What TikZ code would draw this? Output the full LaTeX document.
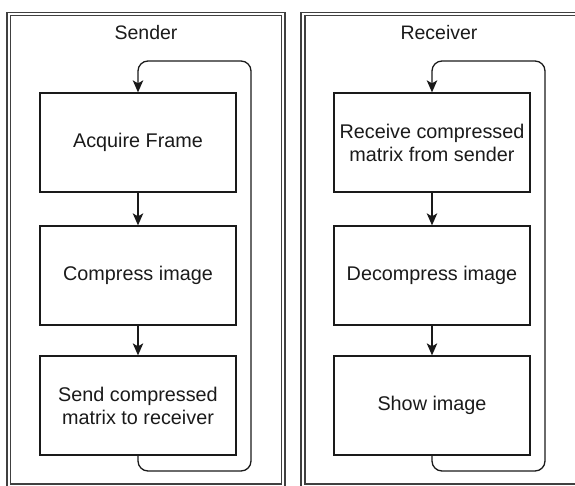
\documentclass[tikz,border=0pt]{standalone}
\usepackage{fontspec}
\setmainfont{Liberation Sans}
\usetikzlibrary{arrows.meta}
\definecolor{framec}{HTML}{404040}
\definecolor{inkc}{HTML}{1A1A1A}
\begin{document}
\begin{tikzpicture}[x=1pt,y=-1pt,
  stepbox/.style={draw=inkc, line width=1.3pt, minimum width=196pt, minimum height=99pt,
    inner sep=0pt, align=center, text=inkc, font=\fontsize{19.8}{23}\selectfont},
  titlec/.style={text=inkc, font=\fontsize{19.5}{23}\selectfont, inner sep=0pt},
  frameline/.style={draw=framec, line width=1.1pt},
  flow/.style={draw=inkc, line width=1.3pt, -{Stealth[length=12pt,width=10.5pt,inset=3pt]}},
  loopc/.style={flow, rounded corners=10pt}]
\useasboundingbox (0,0) rectangle (575,485);
\begin{scope}
\clip (0,0) rectangle (575,485);
% frames
\draw[frameline] (7,12.7) rectangle (285,488);
\draw[frameline] (10.5,15.7) rectangle (281.7,484);
\draw[frameline] (301,12.7) rectangle (592,488);
\draw[frameline] (305,15.7) rectangle (588,484);
\end{scope}
% titles
\node[titlec] (tsend) at (146,33) {Sender};
\node[titlec] (trecv) at (439,33) {Receiver};
% sender boxes
\node[stepbox] (s1) at (138,142.5) {Acquire Frame};
\node[stepbox] (s2) at (138,275.5) {Compress image};
\node[stepbox] (s3) at (138,405.5) {Send compressed\\matrix to receiver};
% receiver boxes
\node[stepbox] (r1) at (432,142.5) {Receive compressed\\matrix from sender};
\node[stepbox] (r2) at (432,275.5) {Decompress image};
\node[stepbox] (r3) at (432,405.5) {Show image};
% connectors
\draw[flow] (s1) -- (s2);
\draw[flow] (s2) -- (s3);
\draw[flow] (r1) -- (r2);
\draw[flow] (r2) -- (r3);
\coordinate (sb) at (138,471);
\coordinate (st) at (251,61);
\coordinate (rb) at (432,471);
\coordinate (rt) at (545,61);
\draw[loopc] (s3.south) -- (sb) -| (st) -| (s1.north);
\draw[loopc] (r3.south) -- (rb) -| (rt) -| (r1.north);
\end{tikzpicture}
\end{document}
